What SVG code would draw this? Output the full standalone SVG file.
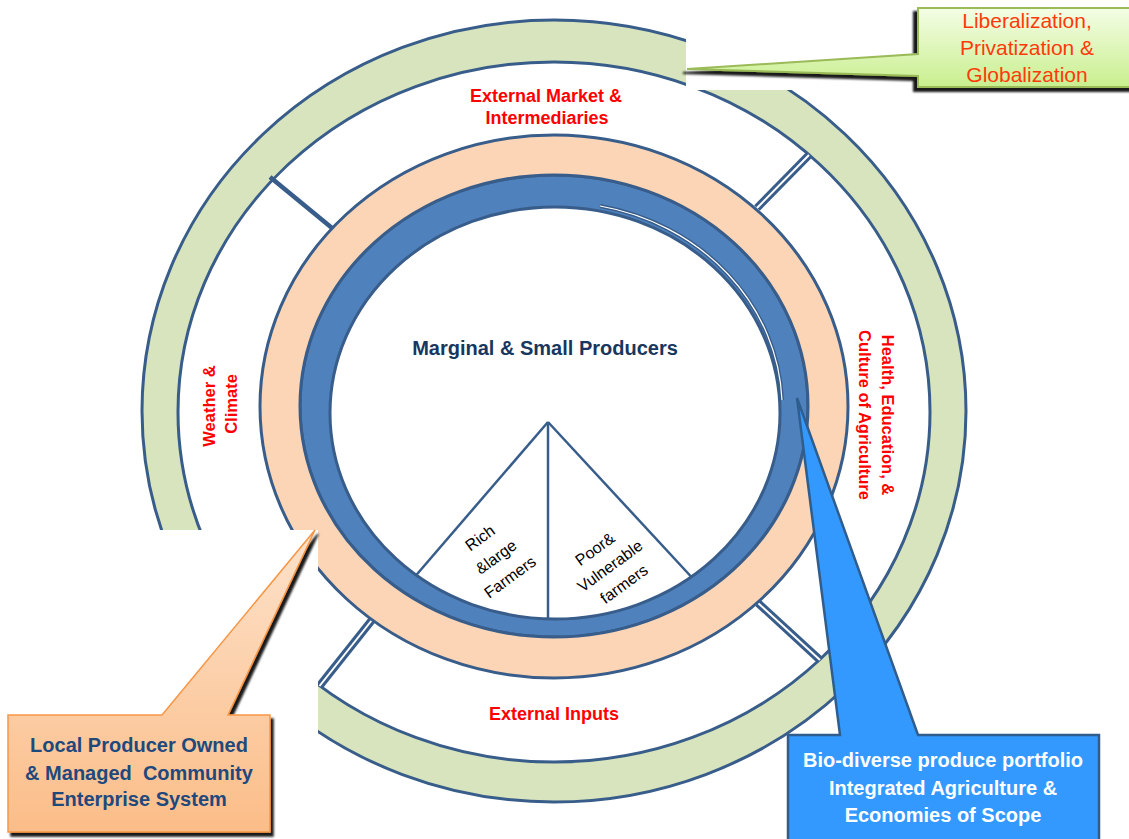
<svg xmlns="http://www.w3.org/2000/svg" width="1129" height="839" viewBox="0 0 1129 839">
<defs>
<style>
.ring{stroke:#385D8A;stroke-width:3;fill-rule:evenodd}
.lbl{font-family:"Liberation Sans",Arial,sans-serif;font-weight:bold;fill:#FF0000;font-size:18px;text-anchor:middle}
.seg{font-family:"Liberation Sans",Arial,sans-serif;font-weight:bold;fill:#FF0000;font-size:16.5px;text-anchor:middle}
.pie{font-family:"Liberation Sans",Arial,sans-serif;fill:#000;font-size:16px;text-anchor:middle}
.co{font-family:"Liberation Sans",Arial,sans-serif;font-weight:bold;font-size:20px;text-anchor:middle}
.dv{stroke:#385D8A;stroke-width:8;fill:none}
.dw{stroke:#fff;stroke-width:2;fill:none}
.pl{stroke:#385D8A;stroke-width:2.5;fill:none}
</style>
<linearGradient id="gGreen" x1="0" y1="0" x2="0" y2="1"><stop offset="0" stop-color="#F4FDE6"/><stop offset="1" stop-color="#C9EF8E"/></linearGradient>
<linearGradient id="gOrange" x1="0" y1="0" x2="0" y2="1"><stop offset="0" stop-color="#FDE2CB"/><stop offset="1" stop-color="#FBBD88"/></linearGradient>
<filter id="shL" x="-20%" y="-20%" width="140%" height="140%"><feDropShadow dx="-4" dy="4" stdDeviation="0.8" flood-color="#000" flood-opacity="0.9"/></filter>
<filter id="shR" x="-20%" y="-20%" width="140%" height="140%"><feDropShadow dx="3" dy="4" stdDeviation="0.8" flood-color="#000" flood-opacity="0.9"/></filter>
</defs>
<rect width="1129" height="839" fill="#fff"/>

<g id="outer-ring">
<path class="ring" fill="#D7E4BD" d="M142,411 a412,391 0 1,0 824,0 a412,391 0 1,0 -824,0 Z M178,412 a376,350 0 1,0 752,0 a376,350 0 1,0 -752,0 Z"/>
</g>

<g id="connectors">
<line x1="270" y1="177" x2="332" y2="228" stroke="#385D8A" stroke-width="4.5"/>
<line class="dv" x1="809" y1="155" x2="757" y2="208"/><line class="dw" x1="809" y1="155" x2="757" y2="208"/>
<line class="dv" x1="372" y1="620" x2="319.5" y2="686"/><line class="dw" x1="372" y1="620" x2="319.5" y2="686"/>
<line class="dv" x1="758" y1="603" x2="820" y2="660"/><line class="dw" x1="758" y1="603" x2="820" y2="660"/>
</g>

<g id="center">
<ellipse cx="555" cy="413" rx="225" ry="206" fill="#fff"/>
<text x="545" y="355" style="font-family:'Liberation Sans',Arial,sans-serif;font-weight:bold;font-size:20px;fill:#17375E;text-anchor:middle">Marginal &amp; Small Producers</text>
</g>

<g id="pie">
<line class="pl" x1="548" y1="422" x2="412" y2="580"/>
<line class="pl" x1="548" y1="422" x2="697" y2="583"/>
<line class="pl" x1="548" y1="422" x2="548" y2="625"/>
</g>
<g id="rich-farmers">
<g transform="translate(480,538) rotate(-36)"><text class="pie" x="0" y="5.5">Rich</text></g>
<g transform="translate(496,557) rotate(-36)"><text class="pie" x="0" y="5.5">&amp;large</text></g>
<g transform="translate(510,577) rotate(-36)"><text class="pie" x="0" y="5.5">Farmers</text></g>
</g>
<g id="poor-farmers">
<g transform="translate(595,549) rotate(-36)"><text class="pie" x="0" y="5.5">Poor&amp;</text></g>
<g transform="translate(610,566) rotate(-36)"><text class="pie" x="0" y="5.5">Vulnerable</text></g>
<g transform="translate(624,584) rotate(-36)"><text class="pie" x="0" y="5.5">farmers</text></g>
</g>

<g id="blue-ring">
<path class="ring" fill="#4F81BD" d="M300,406 a254,231 0 1,0 508,0 a254,231 0 1,0 -508,0 Z M330,413 a225,206 0 1,0 450,0 a225,206 0 1,0 -450,0 Z"/>
<path d="M600,206 A225,206 0 0,1 782,400" fill="none" stroke="#385D8A" stroke-width="4"/>
<path d="M600,206 A225,206 0 0,1 782,400" fill="none" stroke="#fff" stroke-width="1.2"/>
</g>
<g id="peach-ring">
<path class="ring" fill="#FBD5B5" d="M260,406.5 a294,271.5 0 1,0 588,0 a294,271.5 0 1,0 -588,0 Z M300,406 a254,231 0 1,0 508,0 a254,231 0 1,0 -508,0 Z"/>
</g>

<g id="segment-labels">
<text class="lbl" x="546" y="102">External Market &amp;</text>
<text class="lbl" x="547" y="124">Intermediaries</text>
<text class="lbl" x="554" y="720">External Inputs</text>
<g transform="translate(209,406) rotate(-90)"><text class="seg" x="0" y="5.6">Weather &amp;</text></g>
<g transform="translate(231,404) rotate(-90)"><text class="seg" x="0" y="5.6">Climate</text></g>
<g transform="translate(888,415) rotate(90)"><text class="seg" x="0" y="5.6">Health, Education, &amp;</text></g>
<g transform="translate(865,415) rotate(90)"><text class="seg" x="0" y="5.6">Culture of Agriculture</text></g>
</g>

<rect x="686" y="0" width="443" height="90" fill="#fff"/>
<rect x="0" y="530" width="318" height="309" fill="#fff"/>

<g id="callout-liberalization">
<path d="M918,8 L1140,8 L1140,87 L918,87 L918,76 L687,69 L918,54 Z" fill="url(#gGreen)" stroke="#9BBB59" stroke-width="2" filter="url(#shL)"/>
<g style="font-family:'Liberation Sans',Arial,sans-serif;font-size:21px;fill:#FF3A0A;text-anchor:middle">
<text x="1027" y="28">Liberalization,</text>
<text x="1027" y="55">Privatization &amp;</text>
<text x="1027" y="82">Globalization</text>
</g>
</g>

<g id="callout-local">
<path d="M8,715 L162,715 L315,530 L228,715 L270,715 L270,832 L8,832 Z" fill="url(#gOrange)" stroke="#F79646" stroke-width="1.5" filter="url(#shR)"/>
<text class="co" x="139" y="752" fill="#1F497D">Local Producer Owned</text>
<text class="co" x="139" y="780" fill="#1F497D" xml:space="preserve">&amp; Managed  Community</text>
<text class="co" x="139" y="806" fill="#1F497D">Enterprise System</text>
</g>

<g id="callout-biodiverse">
<path d="M788,735 L840,735 L797,398 L918,735 L1099,735 L1099,848 L788,848 Z" fill="#3399FF" stroke="#2F5D8E" stroke-width="2.5"/>
<text class="co" x="943" y="767" fill="#fff">Bio-diverse produce portfolio</text>
<text class="co" x="943" y="795" fill="#fff">Integrated Agriculture &amp;</text>
<text class="co" x="943" y="822" fill="#fff">Economies of Scope</text>
</g>
</svg>
